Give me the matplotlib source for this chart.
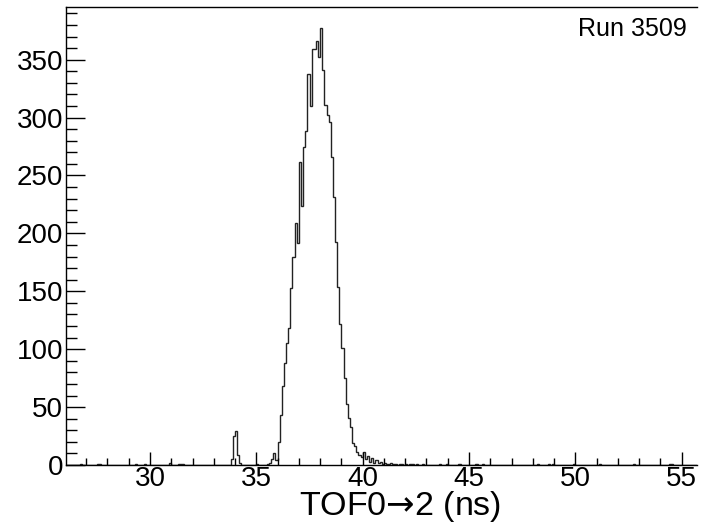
import numpy as np
import matplotlib
matplotlib.use("Agg")
import matplotlib.pyplot as plt
from matplotlib.ticker import MultipleLocator

plt.rcParams['font.family'] = ['Liberation Sans', 'DejaVu Sans']
plt.rcParams['mathtext.fontset'] = 'custom'
plt.rcParams['mathtext.rm'] = 'Liberation Sans'
plt.rcParams['mathtext.sf'] = 'DejaVu Sans'

# histogram binning (ns)
bin_lo, bin_hi, bin_w = 26.0, 56.0, 0.1

# main peak, bins starting at 35.5 ns
peak_start = 35.5
peak_counts = [1, 2, 5, 10, 4, 20, 43, 68, 88, 105,
               118, 153, 180, 209, 192, 262, 224, 275, 288, 338,
               310, 359, 359, 366, 352, 377, 341, 311, 302, 296,
               266, 231, 193, 154, 122, 101, 75, 53, 41, 33,
               19, 16, 11, 9, 7, 11, 5, 8, 3, 6,
               2, 4, 2, 3, 1, 2, 1, 1, 2, 1,
               1, 0, 1, 1, 0, 1, 0, 1, 1, 0,
               1, 0, 0, 1]

# small side peak near 34 ns
side_start = 33.8
side_counts = [5, 25, 29, 9, 2]

# isolated background entries
blip_t = [26.7, 27.5, 27.6, 29.3, 29.7, 30.9, 31.3, 31.4, 31.5, 35.0,
          43.6, 43.9, 44.5, 45.3, 45.6, 48.2, 48.7, 48.9, 49.9, 51.1,
          52.7, 54.4, 54.5]
blip_n = [1, 1, 1, 1, 1, 2, 1, 1, 1, 1,
          1, 1, 1, 1, 1, 1, 1, 1, 1, 1,
          1, 1, 1]

run_label = "Run 3509"
x_label = "TOF0$\\mathsf{\u2192}$2 (ns)"

edges = np.round(np.arange(bin_lo, bin_hi + bin_w / 2, bin_w), 3)
counts = np.zeros(len(edges) - 1)


def fill(start, values):
    i0 = int(round((start - bin_lo) / bin_w))
    counts[i0:i0 + len(values)] += values


fill(peak_start, peak_counts)
fill(side_start, side_counts)
for t, n in zip(blip_t, blip_n):
    fill(t, [n])

fig = plt.figure(figsize=(7.02, 5.23), dpi=100)
ax = fig.add_axes([66 / 702, 1 - 465 / 523, (697 - 66) / 702, (465 - 7) / 523])

ax.stairs(counts, edges, color='#222222', lw=1.0)

ax.set_xlim(26.05, 55.72)
ax.set_ylim(0, 395.5)

ax.xaxis.set_major_locator(MultipleLocator(5))
ax.xaxis.set_minor_locator(MultipleLocator(1))
ax.yaxis.set_major_locator(MultipleLocator(50))
ax.yaxis.set_minor_locator(MultipleLocator(10))

ax.tick_params(axis='both', which='both', direction='in', top=False, right=False,
               labelsize=20, width=1, colors='black')
ax.tick_params(axis='y', which='major', length=13.7, pad=2)
ax.tick_params(axis='y', which='minor', length=7.7)
ax.tick_params(axis='x', which='major', length=9.1, pad=1)
ax.tick_params(axis='x', which='minor', length=5)

ax.spines['right'].set_visible(False)
for s in ['left', 'bottom', 'top']:
    ax.spines[s].set_linewidth(1.0)

fig.text(400 / 702, 1 - 515 / 523, x_label, ha='center', va='baseline', fontsize=24.5)
ax.text(0.983, 0.978, run_label, transform=ax.transAxes, ha='right', va='top', fontsize=18)

fig.savefig("out.png", dpi=100)
